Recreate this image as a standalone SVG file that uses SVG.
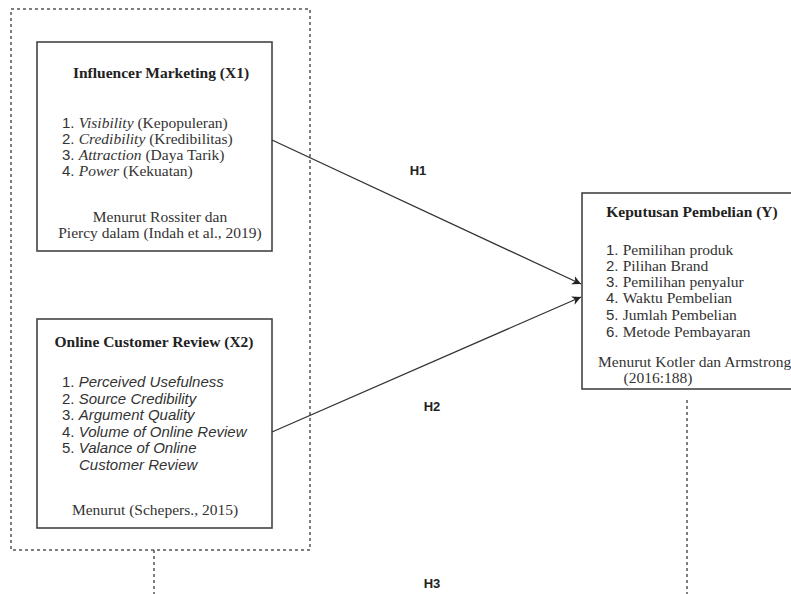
<svg xmlns="http://www.w3.org/2000/svg" width="791" height="594" viewBox="0 0 791 594">
<style>
.box{fill:#fff;stroke:#444;stroke-width:1.6}
.dash{fill:none;stroke:#555;stroke-width:1.5;stroke-dasharray:3 3}
.ttl{font-family:"Liberation Serif",serif;font-weight:bold;font-size:15.5px;fill:#222}
.srf{font-family:"Liberation Serif",serif;font-size:15.5px;fill:#333}
.sns{font-family:"Liberation Sans",sans-serif;font-size:15px;fill:#333}
.it{font-style:italic}
.h{font-family:"Liberation Sans",sans-serif;font-weight:bold;font-size:13px;fill:#222}
.line{stroke:#333;stroke-width:1.3;fill:none}
</style>
<defs>
<marker id="arr" viewBox="0 0 10 10" refX="10" refY="5" markerWidth="9" markerHeight="9" markerUnits="userSpaceOnUse" orient="auto">
<path d="M0,0 L10,5 L0,10 L3,5 z" fill="#222"/>
</marker>
</defs>
<g id="group-outer">
<rect class="dash" x="11" y="9" width="299" height="541"/>
</g>
<g id="node-x1">
<rect class="box" x="37" y="42" width="235" height="209"/>
<text class="ttl" x="161" y="78" text-anchor="middle">Influencer Marketing (X1)</text>
<text class="srf" x="62" y="128"><tspan class="sns">1. </tspan><tspan class="it">Visibility</tspan> (Kepopuleran)</text>
<text class="srf" x="62" y="144"><tspan class="sns">2. </tspan><tspan class="it">Credibility</tspan> (Kredibilitas)</text>
<text class="srf" x="62" y="160"><tspan class="sns">3. </tspan><tspan class="it">Attraction</tspan> (Daya Tarik)</text>
<text class="srf" x="62" y="176"><tspan class="sns">4. </tspan><tspan class="it">Power</tspan> (Kekuatan)</text>
<text class="srf" x="160" y="222" text-anchor="middle">Menurut Rossiter dan</text>
<text class="srf" x="160" y="238" text-anchor="middle">Piercy dalam (Indah et al., 2019)</text>
</g>
<g id="node-x2">
<rect class="box" x="37" y="319" width="235" height="209"/>
<text class="ttl" x="154" y="347" text-anchor="middle">Online Customer Review (X2)</text>
<text class="sns" x="62" y="387">1. <tspan class="it">Perceived Usefulness</tspan></text>
<text class="sns" x="62" y="404">2. <tspan class="it">Source Credibility</tspan></text>
<text class="sns" x="62" y="420">3. <tspan class="it">Argument Quality</tspan></text>
<text class="sns" x="62" y="437">4. <tspan class="it">Volume of Online Review</tspan></text>
<text class="sns" x="62" y="453">5. <tspan class="it">Valance of Online</tspan></text>
<text class="sns it" x="79" y="470">Customer Review</text>
<text class="srf" x="155" y="515" text-anchor="middle">Menurut (Schepers., 2015)</text>
</g>
<g id="node-y">
<rect class="box" x="582" y="193" width="220" height="196"/>
<text class="ttl" x="692" y="217" text-anchor="middle">Keputusan Pembelian (Y)</text>
<text class="srf" x="606" y="255"><tspan class="sns">1. </tspan>Pemilihan produk</text>
<text class="srf" x="606" y="271"><tspan class="sns">2. </tspan>Pilihan Brand</text>
<text class="srf" x="606" y="287"><tspan class="sns">3. </tspan>Pemilihan penyalur</text>
<text class="srf" x="606" y="303"><tspan class="sns">4. </tspan>Waktu Pembelian</text>
<text class="srf" x="606" y="320"><tspan class="sns">5. </tspan>Jumlah Pembelian</text>
<text class="srf" x="606" y="337"><tspan class="sns">6. </tspan>Metode Pembayaran</text>
<text class="srf" x="598" y="367">Menurut Kotler dan Armstrong</text>
<text class="srf" x="658" y="383" text-anchor="middle">(2016:188)</text>
</g>
<g id="connectors">
<line class="line" x1="272" y1="140" x2="581" y2="284" marker-end="url(#arr)"/>
<line class="line" x1="272" y1="432" x2="581" y2="297" marker-end="url(#arr)"/>
<line class="dash" x1="154" y1="550" x2="154" y2="594"/>
<line class="dash" x1="687" y1="400" x2="687" y2="594"/>
<text class="h" x="418" y="175" text-anchor="middle">H1</text>
<text class="h" x="432" y="411" text-anchor="middle">H2</text>
<text class="h" x="432" y="588" text-anchor="middle">H3</text>
</g>
</svg>
